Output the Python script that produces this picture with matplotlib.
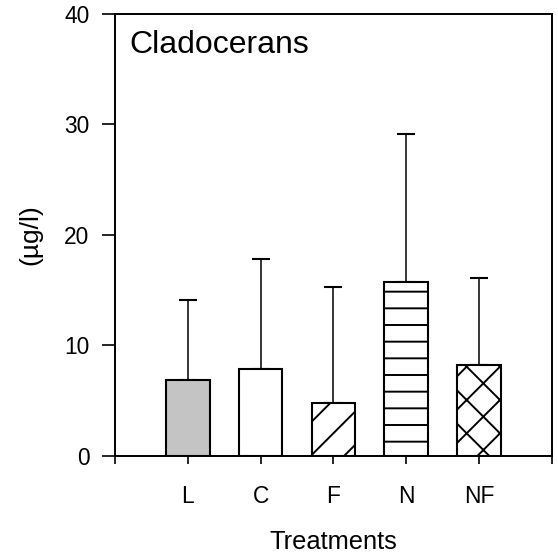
import numpy as np
import matplotlib.pyplot as plt

# Cladoceran biomass per treatment (mean and upper SD)
treatments = ["L", "C", "F", "N", "NF"]
means = [6.9, 7.9, 4.8, 15.7, 8.2]
sds = [7.2, 9.9, 10.5, 13.4, 7.9]
hatches = ["", "", "//", "--", "xx"]
fills = ["#c4c4c4", "white", "white", "white", "white"]

plt.rcParams["font.family"] = ["Liberation Sans", "DejaVu Sans"]
plt.rcParams["hatch.linewidth"] = 0.7

fig = plt.figure(figsize=(2.79, 2.78), dpi=200)
ax = fig.add_axes([0.206, 0.180, 0.783, 0.795])

x = np.arange(1, len(treatments) + 1)
ax.bar(x, means, width=0.6, color=fills, edgecolor="black",
       linewidth=0.75, hatch=hatches, zorder=3)
ax.errorbar(x, means, yerr=[np.zeros(len(sds)), sds], fmt="none",
            ecolor="black", elinewidth=0.55, capsize=3.2, capthick=0.75,
            zorder=2)

ax.set_xlim(0, 6)
ax.set_ylim(0, 40)
ax.set_yticks([0, 10, 20, 30, 40])
ax.set_xticks(range(0, 7))
ax.set_xticklabels([""] + treatments + [""])
ax.tick_params(axis="y", direction="out", length=4.7, width=0.6,
               pad=4.5, labelsize=8.2)
ax.tick_params(axis="x", direction="out", length=3.0, width=0.6,
               pad=7.5, labelsize=8.2)
for s in ax.spines.values():
    s.set_linewidth(0.7)

ax.set_xlabel("Treatments", fontsize=9.2, labelpad=8)
ax.set_ylabel("(\u00b5g/l)", fontsize=9.5, labelpad=8)
ax.text(0.034, 0.93, "Cladocerans", transform=ax.transAxes,
        fontsize=11.5, va="center", ha="left")

fig.savefig("out.png", dpi=200)
